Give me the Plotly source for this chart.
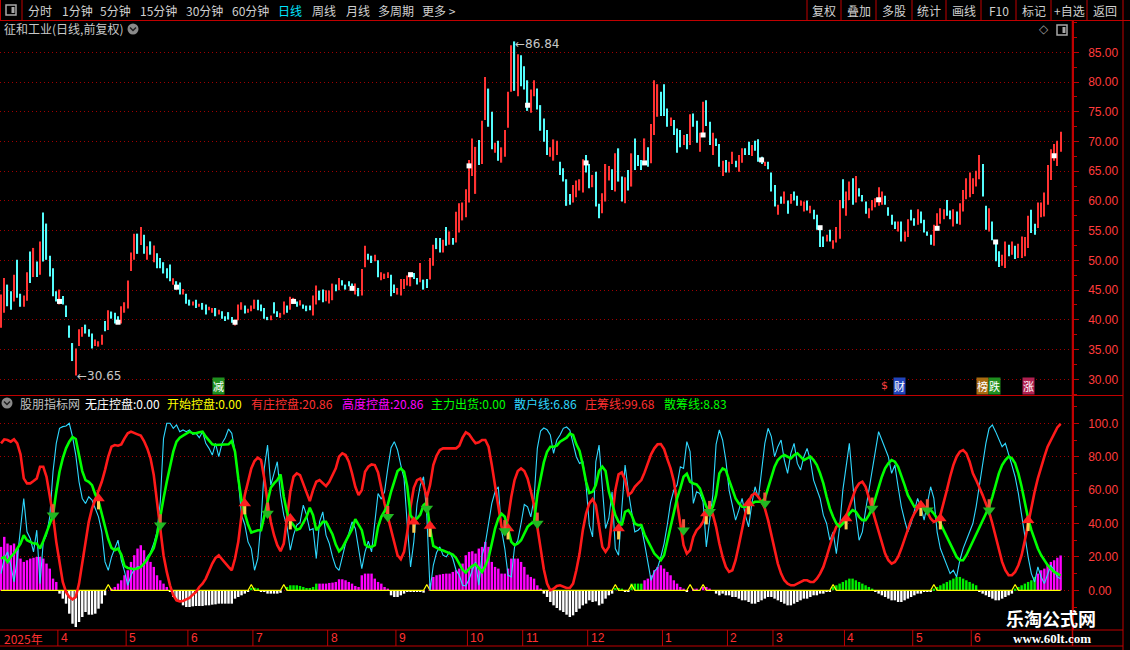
import plotly.graph_objects as go

W, H = 1130, 650
def px(x): return x / W
def py(y): return 1 - y / H

# ---------------- price data (daily bars) ----------------
highs = [44.25,47.05,45.93,44.8,47.6,50.1,44.4,44.1,48.0,51.5,
 52.1,49.8,53.2,58.06,56.2,50.8,48.7,44.8,45.1,44.0,
 42.4,39.05,36.1,35.2,38.4,38.8,39.2,38.4,37.7,36.7,
 36.4,37.5,39.8,41.6,41.4,41.2,40.6,42.3,42.96,46.6,
 51.35,54.5,54.5,55.6,54.3,52.36,53.2,52.5,51.2,50.4,
 49.7,48.7,49.3,47.0,46.5,46.3,45.2,44.4,43.4,43.1,
 43.4,42.7,42.85,42.57,42.2,42.0,42.0,41.7,41.45,40.6,
 41.3,40.5,40.06,42.57,42.96,42.4,41.85,42.4,43.4,43.4,
 42.57,42.0,40.5,40.73,42.96,41.45,41.18,43.1,42.4,43.9,
 43.7,43.1,43.3,42.57,42.4,42.4,44.08,45.76,44.92,45.09,
 44.98,44.92,46.1,45.93,47.05,46.66,45.93,46.5,46.1,46.1,
 45.37,48.56,52.47,51.13,50.79,50.96,50.01,48.0,47.77,48.0,
 47.6,45.93,45.37,46.88,46.88,47.44,47.88,47.88,47.05,49.56,
 46.77,46.88,50.4,52.64,53.76,53.76,53.47,55.6,54.87,53.76,
 58.2,59.6,59.74,61.97,66.9,70.52,69.1,70.24,73.49,80.86,
 78.9,74.99,69.8,70.13,69.02,71.92,78.35,86.17,86.84,84.66,
 84.5,82.65,80.3,78.74,80.3,78.9,76.12,73.88,71.92,69.02,
 70.35,70.13,66.61,65.49,63.65,61.19,62.7,63.43,63.65,67.0,
 67.73,66.22,64.38,64.93,59.51,61.3,66.22,65.89,65.33,68.01,
 68.85,64.1,63.99,65.21,68.01,70.52,67.73,66.89,70.52,69.02,
 72.93,80.3,79.64,78.35,79.64,75.55,74.05,73.6,72.2,71.92,
 71.08,71.25,74.6,74.72,73.49,71.47,76.67,76.95,73.32,71.47,
 70.52,69.57,66.78,66.89,66.61,68.29,66.78,67.73,68.85,68.85,
 69.96,69.41,70.13,70.36,67.45,66.61,66.61,64.77,62.7,59.35,
 60.74,61.58,60.07,61.19,61.58,60.86,60.07,59.91,60.07,59.18,
 58.51,57.67,55.71,54.03,54.31,55.15,53.37,55.6,60.18,63.65,
 61.58,63.26,63.82,64.21,62.14,61.02,59.91,58.79,60.18,60.46,
 62.31,61.58,60.86,58.96,57.67,56.55,56.55,56.55,54.87,56.94,
 58.51,57.11,58.62,58.23,56.83,54.87,54.31,55.99,57.95,58.79,
 58.62,60.18,58.4,58.62,58.23,59.63,61.86,63.82,64.77,63.82,
 65.1,67.73,66.22,59.18,58.79,56.55,52.81,51.52,50.96,53.2,
 52.64,53.2,52.47,52.81,54.03,53.92,57.5,58.51,56.16,59.74,
 59.74,61.41,66.05,68.68,69.58,70.13,71.64]
lows = [38.66,41.18,42.29,41.7,43.1,43.7,42.2,42.2,43.2,46.2,
 47.2,47.2,47.6,49.8,50.1,47.3,43.97,43.1,42.6,42.6,
 40.5,36.98,33.07,30.65,35.6,37.15,37.7,37.15,35.2,35.6,
 35.5,35.8,38.1,38.3,40.2,39.4,39.4,39.4,41.2,41.9,
 48.2,50.1,51.1,52.6,51.1,50.1,50.96,49.7,48.7,48.7,
 47.8,47.0,46.5,45.9,45.1,44.25,44.25,42.7,42.4,42.4,
 42.0,42.2,41.7,40.9,41.6,41.2,40.6,40.9,40.17,39.8,
 40.06,39.5,39.05,39.95,41.7,41.06,41.18,41.45,41.85,41.6,
 41.45,40.17,39.95,39.95,41.06,40.5,40.34,40.9,41.18,41.7,
 42.7,42.2,42.4,41.85,41.45,41.6,40.73,42.57,43.3,42.96,
 43.13,42.74,43.3,44.8,44.98,45.76,45.09,45.65,45.2,44.25,
 43.97,44.08,48.84,50.12,49.56,49.84,47.16,46.66,46.88,47.05,
 43.97,44.53,44.25,44.08,45.2,45.76,45.65,46.88,45.93,46.32,
 45.09,45.37,46.77,49.11,51.9,51.35,51.35,52.47,52.64,52.64,
 53.03,54.7,56.72,57.28,59.74,64.21,61.19,66.05,66.22,73.6,
 72.48,68.68,68.12,66.78,66.44,67.45,72.31,78.35,78.52,77.6,
 79.3,78.74,75.16,74.83,77.6,75.39,71.81,69.96,67.73,67.45,
 66.78,67.73,64.38,63.26,59.18,59.35,59.74,60.63,61.75,61.41,
 64.77,62.14,62.31,59.07,57.11,57.95,59.91,63.43,61.86,61.58,
 63.26,59.91,59.63,61.75,62.42,65.21,65.89,65.21,66.78,65.77,
 66.33,71.08,74.16,74.27,74.27,72.48,72.59,71.08,68.12,69.02,
 69.41,68.68,69.41,72.48,69.8,68.29,71.08,72.59,69.41,67.73,
 69.24,65.77,64.21,64.77,64.77,66.22,65.66,64.93,66.44,67.73,
 67.73,67.56,68.46,66.61,66.22,65.89,65.33,61.58,59.07,57.67,
 59.51,59.51,57.84,59.51,60.07,59.18,59.18,58.23,58.4,57.95,
 56.94,55.15,52.25,52.25,53.2,53.2,51.97,53.03,53.64,58.79,
 57.5,60.18,59.35,59.74,60.74,59.91,57.84,57.11,58.4,58.96,
 59.18,59.35,59.35,57.5,55.99,55.27,54.87,53.2,53.2,53.92,
 56.72,55.82,55.99,56.27,54.71,54.15,52.64,52.47,55.15,56.16,
 56.94,57.5,56.94,55.71,56.16,55.99,58.23,60.3,60.63,61.19,
 62.42,63.65,60.74,55.15,54.87,53.37,49.84,48.89,49.12,48.73,
 50.68,50.96,50.24,50.4,50.4,50.68,52.08,54.59,54.31,55.43,
 57.28,57.39,59.35,63.54,66.78,65.89,68.29]
# r = up (red), c = down (cyan)
updown = ("rrccrccrrc" "rcrcccccrc" "cccrrrcccr" "rrcrcccrrr" "rrcrcrcrcc"
          "cccrccrccr" "crccrrcrcc" "ccrrrcrrrc" "cccrccrrcr" "rcrcccrrcc"
          "rrrcrccccr" "crrccrcrrr" "ccrrrrrccr" "ccrrccrcrc" "rrrrrrrcrr"
          "ccrcrrrrcr" "cccrrccccr" "rrccccrrrr" "ccrccrrrcr" "ccrcrcccrc"
          "rrrcccrccc" "rcrccrrccr" "ccrcrrcrrc" "crcccrcccr" "crcrccrrcr"
          "ccccrcrrrc" "rrcrcccrrr" "rrccccrcrr" "ccrccccrrr" "rccrcrrrrr"
          "rrccrcccrr" "crcrrrrccr" "rrrrrrr")
N = len(highs)
idx = list(range(N))

# periodic white square marks (bar index, price)
sq_idx = [18, 36, 54, 72, 90, 108, 126, 144, 162, 180, 198, 216, 234, 252, 270, 288, 306, 324]
sq_val = [43.1, 39.6, 45.5, 39.6, 43.1, 45.3, 47.6, 65.9, 76.1, 66.4, 66.4, 71.1, 66.9, 55.5, 60.2, 55.4, 53.1, 67.6]

# month starts
month_idx = [18, 39, 58, 78, 101, 122, 144, 161, 181, 204, 224, 238, 260, 281, 299]
month_lbl = ['4', '5', '6', '7', '8', '9', '10', '11', '12', '1', '2', '3', '4', '5', '6']

price_ticks = [30, 35, 40, 45, 50, 55, 60, 65, 70, 75, 80, 85]
ind_ticks = [0, 20, 40, 60, 80, 100]
ind_ticktext = ['0.00', '20.00', '40.00', '60.00', '80.00', '100.0']

# ---------------- indicator data ----------------
zhuang_line = [88,90.4,90,89,90.4,88,81.4,67,64,64,
 65.4,67,74,74,68,57,45,29,17,5,
 -1,-4,-5.4,-4,4,17,31,41,49,54,
 59,65,72,80,86,87,86.6,87.4,91,94,
 95,94.4,93.4,92.6,89.4,85,79,69,53,35,
 21,11,3,-3,-6,-6.6,-6.4,-5.4,-4.6,-2.6,
 -1,2,4,7,12,16,19.4,21,18.6,16,
 14,12,19,29,45,57,65,73,77.4,79.4,
 78,67,53,41,33,27,23.4,28,43,59,
 68,70,69,64,58,53.4,60,65,66,64,
 62.4,65,69,73,80,82,81,77,70,62,
 57,60,71,74,75.4,75,70.6,60.6,52,44,
 36,28,21,18.6,23,35,50,61.4,66,67,
 63,55.4,63,75,80.6,84,85,85,85,84.8,
 85,86.6,91.4,94.6,93.4,90.6,88,88.6,90,90,
 86,75,62,48,38,35.4,43,56,66,71.4,
 73,71.4,67,59.4,51,38,24,12.6,4,0,
 1,2.6,3,2,1.4,1.4,4,12,22,36,
 46,52,54.6,51,37,26,23,26,43,60,
 69.4,70.6,66,57,58.6,62,64,66,70.6,76,
 81.4,85,87.4,87.6,84.6,78.6,73,65.4,52,38,
 27,22,24,32,36,38,41,47,51,45.4,
 38,28,20,14,11,12,18,27,37,46,
 53,57,58,56,53,49,42,33,24,16,
 10,6,4,3,3,4,5,6,6,5,
 5,7,10,14,20,27,33,38,40,41,
 44,50,56,61,64,65,62,56,49,42,
 35,28,22,18,16,17,20,25,31,37,
 42,46,49,51,50,47,43,41,42,45,
 52,60,68,75,80,83,84,82,77,70,
 66,62,57,52,47,40,32,24,17,12,
 9,9,11,15,21,30,40,50,59,67,
 74,80,86,90,94,97.5,99.68]
sanchou_line = [19,20,17,20,22,25,28,33,30,29,
 28,28,25,29.4,35,40.6,45,59,71,79,
 85,89,91.8,90.6,81.4,71.4,66,65,63,57.4,
 53.4,45.4,37.4,30.6,25.4,24,25,21.4,14.6,13.4,
 13,12.6,13,14,16,18.6,22,25.4,33,45,
 55,65,75,83,89,91.4,92.6,94,95,94,
 94,94.6,95,92,89.4,87.4,87,87,87.4,87.4,
 87.4,89.4,83,67,54,46,39.4,34.6,35.4,36,
 36,45,53.4,61.4,64,66,69.4,56,46.6,41.4,
 39,36.2,37,40.6,44,49.4,45,36,38.6,41,
 41,37,33.4,27.4,23.4,25.4,29.4,32.6,36.6,42.6,
 39,36,27.4,26,26,27,38,44,47.4,51.4,
 59,66,71.4,73,71,62,45,42,43,45.4,
 51,52.6,37,26.6,25.4,24.4,23.8,23,22.4,21.4,
 19.4,15.4,12.4,10.6,13,14.6,15.6,13.4,11,14.6,
 19.4,28,37,43,45.8,44,36,29,27,28,
 30,34,38,39.8,41,57,68,76.6,83,86,
 86,86.6,89,90.4,91.4,93.8,93,87.4,83.4,75,
 65,58.2,59,63,71.4,74,71.4,59.4,52,45,
 41,39,47,48,45,40,39,39,33.4,29.4,
 25.4,22,20,18,21,29.4,38.6,47,55,61,
 68,69.8,65,64,63.4,61,55,50,47.4,50,
 57,70,73,72,66,60,55,52,50,50,
 51,52,53,53,53,55,61,68,74,78,
 80,81,80,79,81,82,80,78,79,80,
 78,75,70,64,56,49,44,40,38,40,
 42,46,48,47,44,42,42,45,49,55,
 62,68,73,76,78,77,74,69,63,57,
 53,50,50,50,49,48,48,46,43,40,
 36,32,27,23,20,18,18,21,25,30,
 34,38,42,46,50,56,63,70,75,78,
 80,79,76,70,62,52,43,36,30,25,
 21,18,15,13,11,10,8.83]
sanhu_line = [10,19,23,15,5,19,37,55,35,31,
 23,36,4,29,33,44,71,88,97,98,
 98.4,100,92,81,65,55,52,56,54,49,
 44,35,17,12,20,25,30,18,11.4,3,
 9,12.6,14,14,16,20,22.6,28,35,53,
 91,100,100,97,99,95,96,95,96,93.4,
 94,91.4,95,88,85,81,88,80,88,91.4,
 96.6,94,83,66,45,39.4,29,25,12,19,
 41,73,87,63,70,77,57,45,38,24,
 33,39,40.6,51,45,36,37,19,41,47,
 33,28,20,14,12,21,28,34,41,37,
 25,13,23,29.4,23,41,58,54.6,59,73,
 85.4,89,84,75,67,39,14,29,52,63,
 68,45,0,15,22.6,26,21,20,23,19,
 12,9,3,2.6,6.6,12,17,3,21,28,
 41,52,59,62,36,25,9,8,26,30,
 40,51.4,50,44,55,85,95.4,97.2,96.2,93,
 82,90,93,97,97.8,96,88,80,76,77,
 63,39,32,77,87,64,37,43,59,25,
 21,49,75,59.4,47,35,36,38,28,17,
 6,11.4,13.4,20,28,39.4,52.6,60,63,74,
 73,89,83,52,59,58,53,26,40,57,
 87.4,96,90,78,60,50,42,48,55,45,
 38,52,62,55,70,88,97,92,80,86,
 90,78,70,82,88,76,72,80,85,78,
 66,60,55,45,40,30,35,22,38,60,
 75,88,65,45,30,35,48,60,72,85,
 95,90,85,80,70,75,62,50,42,35,
 40,48,55,50,42,52,62,55,35,25,
 20,15,10,12,8,18,25,30,35,40,
 50,62,75,88,97,99,95,90,86,88,
 82,75,68,58,45,32,20,10,5,14,
 8,4,10,15,12,8,6.86]

# histogram runs: (start index, values)
gaodu_runs = [(0, [26,32,28,27,28,24,19,17,18,19,19.5,20,20,19,16,13,7,5]),
 (34, [1,2,4,6,9,12,17,21,25,27,24,19,17,14,9,6,4,2]),
 (98, [4,4,4,4.4,4.6,5,6.6,6.6,6,5,4,2.6,2,9,10,10,10,7,5,4,2,1]),
 (132, [4,8,9,9.4,9.8,10,10,11,12,13,16,21,23,23.4,22,25,26,29,26,17,14,13,10,10,13,19,19,19,17,14,9.4,8,7,3,1]),
 (198, [6,7,9,12,14,15,13,11,9,6,4,2,1]),
 (213, [1,1]), (216, [2,2,1]),
 (319, [10,12,13,15,17,18,19.5,20.86])]
wuzhuang_runs = [(18, [-2,-5,-8,-14,-20,-22,-19,-16,-13,-14.6,-14.6,-14,-11,-8,-3]),
 (52, [-1,-4,-6,-7,-9,-10,-10,-9.6,-9.4,-9.4,-9.4,-9,-9,-8.6,-8.4,-8,-8,-8,-8,-8,-5,-4,-3,-2,-0.6]),
 (80, [-1,-1,-2,-2,-2,-2,-1.5]),
 (120, [-3,-4,-4,-3,-2,-1,-1,-1,-0.6,-1,-1.4]),
 (167, [-2,-4,-7,-9,-10.6,-12,-13,-14.6,-16,-15,-13,-11,-9,-8,-6,-7,-6.6,-9,-8,-5,-3,-2]),
 (192, [-1,-1]), (211, [-1]),
 (220, [-2,-3,-2,-3,-3,-4,-4,-5,-6,-6,-7,-8,-8,-7,-6,-5,-4,-4,-5,-6,-7,-8,-9,-9,-8,-7,-6,-5,-5,-4,-3,-3,-2,-2,-1,-1]),
 (269, [-1,-2,-3,-4,-5,-6,-6,-7,-7,-6,-5,-4,-3,-2,-2,-1,-1,-1]),
 (301, [-1,-2,-3,-4,-5,-6,-6,-5,-4,-3,-2])]
chuhuo_runs = [(77, [1.5,1.5,1.2]), (88, [2,3,3,3,2.6,2,1.4,1.4,2,4]),
 (189, [1.4,1.4,1]), (194, [4,4,4,4]),
 (256, [2,3,4,5,6,7,7,6,5,4,3,2,1]),
 (287, [1,2,3,4,5,6,7,8,8,7,6,5,4,3]),
 (312, [1,2,3,4,5,6,8])]
kaishi_spikes = [33, 77, 87, 131, 189, 194, 212, 216, 256, 287, 312]
kaishi_height = 3.5

red_up_idx = [30, 75, 89, 127, 132, 156, 190, 217, 230, 260, 283, 289, 316]
red_up_val = [55, 52, 43, 41, 38.5, 37, 37, 46, 52, 43, 51, 43, 42]
grn_dn_idx = [16, 49, 82, 119, 131, 155, 165, 210, 218, 235, 268, 285, 304]
grn_dn_val = [45, 39, 46, 44, 49, 35.5, 40, 36, 47, 52, 49, 48, 48]

def expand(runs):
    out = [0.0] * N
    for s, vals in runs:
        for k, v in enumerate(vals):
            out[s + k] = v
    return out

gaodu = expand(gaodu_runs)
wuzhuang = expand(wuzhuang_runs)
chuhuo = expand(chuhuo_runs)
kaishi = [0.0] * N
for s in kaishi_spikes:
    kaishi[s] = kaishi_height

# ---------------- figure ----------------
RED = '#ff3232'
CYAN = '#54fcfc'
FRAME = '#c00000'
CJK = 'Noto Sans CJK SC'

fig = go.Figure()

# candles (thin bars from low to high)
fig.add_trace(go.Bar(x=idx, y=[h - l for h, l in zip(highs, lows)], base=lows, width=0.36,
                     marker=dict(color=[RED if f == 'r' else CYAN for f in updown], line=dict(width=0)),
                     hoverinfo='skip', xaxis='x', yaxis='y'))
fig.add_trace(go.Scatter(x=sq_idx, y=sq_val, mode='markers',
                         marker=dict(symbol='square', size=5, color='white', line=dict(width=0)),
                         hoverinfo='skip', xaxis='x', yaxis='y'))

# indicator histograms
fig.add_trace(go.Bar(x=idx, y=gaodu, width=0.75, marker=dict(color='#ff00ff', line=dict(width=0)),
                     hoverinfo='skip', xaxis='x2', yaxis='y2'))
fig.add_trace(go.Bar(x=idx, y=wuzhuang, width=0.75, marker=dict(color='#ffffff', line=dict(width=0)),
                     hoverinfo='skip', xaxis='x2', yaxis='y2'))
fig.add_trace(go.Bar(x=idx, y=chuhuo, width=0.75, marker=dict(color='#00ee00', line=dict(width=0)),
                     hoverinfo='skip', xaxis='x2', yaxis='y2'))
fig.add_trace(go.Scatter(x=idx, y=kaishi, mode='lines', line=dict(color='#ffff00', width=1.2),
                         hoverinfo='skip', xaxis='x2', yaxis='y2'))
fig.add_trace(go.Scatter(x=idx, y=sanhu_line, mode='lines', line=dict(color='#2fd8ff', width=1.1),
                         hoverinfo='skip', xaxis='x2', yaxis='y2'))
fig.add_trace(go.Scatter(x=idx, y=zhuang_line, mode='lines', line=dict(color='#ff1a1a', width=2.6),
                         hoverinfo='skip', xaxis='x2', yaxis='y2'))
fig.add_trace(go.Scatter(x=idx, y=sanchou_line, mode='lines', line=dict(color='#00ff00', width=2.6),
                         hoverinfo='skip', xaxis='x2', yaxis='y2'))
# arrows: head + stem
fig.add_trace(go.Scatter(x=red_up_idx, y=[v - 3.6 for v in red_up_val], mode='markers',
                         marker=dict(symbol='line-ns-open', size=7, line=dict(color='#ff2020', width=3)),
                         hoverinfo='skip', xaxis='x2', yaxis='y2'))
fig.add_trace(go.Scatter(x=red_up_idx, y=red_up_val, mode='markers',
                         marker=dict(symbol='triangle-up', size=11, color='#ff2020', line=dict(width=0)),
                         hoverinfo='skip', xaxis='x2', yaxis='y2'))
fig.add_trace(go.Scatter(x=grn_dn_idx, y=[v + 3.6 for v in grn_dn_val], mode='markers',
                         marker=dict(symbol='line-ns-open', size=7, line=dict(color='#22b822', width=3)),
                         hoverinfo='skip', xaxis='x2', yaxis='y2'))
fig.add_trace(go.Scatter(x=grn_dn_idx, y=grn_dn_val, mode='markers',
                         marker=dict(symbol='triangle-down', size=11, color='#22b822', line=dict(width=0)),
                         hoverinfo='skip', xaxis='x2', yaxis='y2'))

XDOM = [0, 1072 / W]
XR = [-0.31, 329.5]
axis_font = dict(color='#ff3c3c', size=12, family='Liberation Sans')
common_y = dict(side='right', showgrid=True, gridcolor='#a00000', griddash='1px,3px', gridwidth=1,
                showline=True, linecolor=FRAME, linewidth=1.5, ticks='outside', ticklen=5,
                tickcolor=FRAME, tickfont=axis_font, zeroline=False, fixedrange=True,
                ticklabelstandoff=7)

fig.update_layout(
    width=W, height=H, margin=dict(l=0, r=0, t=0, b=0),
    paper_bgcolor='black', plot_bgcolor='black', showlegend=False, barmode='overlay',
    xaxis=dict(domain=XDOM, range=XR, showgrid=False, showticklabels=False, zeroline=False,
               showline=False, ticks='', anchor='y', fixedrange=True),
    xaxis2=dict(domain=XDOM, range=XR, showgrid=False, showticklabels=False, zeroline=False,
                showline=False, ticks='', anchor='y2', fixedrange=True),
    yaxis=dict(domain=[py(395), py(21)], range=[27.36, 90.27], anchor='x',
               tickvals=price_ticks, ticktext=['%.2f' % v for v in price_ticks],
               minor=dict(dtick=2.5, tick0=0, ticklen=3, tickcolor=FRAME, ticks='outside', showgrid=False),
               **common_y),
    yaxis2=dict(domain=[py(630), py(396)], range=[-23.77, 116.35], anchor='x2',
                tickvals=ind_ticks, ticktext=ind_ticktext,
                minor=dict(dtick=10, tick0=0, ticklen=3, tickcolor=FRAME, ticks='outside', showgrid=False),
                **common_y),
)

shapes = []
def hline(y, x0, x1, color=FRAME, w=1):
    shapes.append(dict(type='line', xref='paper', yref='paper', x0=px(x0), x1=px(x1), y0=py(y), y1=py(y),
                       line=dict(color=color, width=w)))
def vline(x, y0, y1, color=FRAME, w=1):
    shapes.append(dict(type='line', xref='paper', yref='paper', x0=px(x), x1=px(x), y0=py(y0), y1=py(y1),
                       line=dict(color=color, width=w)))

hline(20.5, 0, W)
for xs in [0.5, 22, 807, 841, 876, 912, 946, 981, 1016, 1051, 1087]:
    vline(xs, 0, 20.5)
vline(1123, 0, H)
vline(1072.5, 21, 646, w=1.5)
hline(395.5, 0, 1123)
hline(630, 0, 1123)
hline(646, 0, 1123)
# month dividers on the date strip
for m in month_idx:
    shapes.append(dict(type='line', xref='x2', yref='paper', x0=m - 0.5, x1=m - 0.5, y0=py(630), y1=py(646),
                       line=dict(color=FRAME, width=1)))

def icon_box(x0, y0):
    shapes.append(dict(type='rect', xref='paper', yref='paper', x0=px(x0), x1=px(x0 + 10), y0=py(y0), y1=py(y0 + 10),
                       line=dict(color='#a8a8a8', width=1.5), fillcolor='rgba(0,0,0,0)'))
    shapes.append(dict(type='rect', xref='paper', yref='paper', x0=px(x0 + 5.5), x1=px(x0 + 8.5), y0=py(y0 + 2), y1=py(y0 + 8),
                       line=dict(width=0), fillcolor='#a8a8a8'))
icon_box(6, 5)
icon_box(1057, 25)

def chevron_circle(cx, cy):
    r = 5.5
    shapes.append(dict(type='circle', xref='paper', yref='paper', x0=px(cx - r), x1=px(cx + r), y0=py(cy - r), y1=py(cy + r),
                       line=dict(width=0), fillcolor='#8a8a8a'))
    path = 'M %f %f L %f %f L %f %f' % (px(cx - 3), py(cy - 1.5), px(cx), py(cy + 1.5), px(cx + 3), py(cy - 1.5))
    shapes.append(dict(type='path', xref='paper', yref='paper', path=path, line=dict(color='#202020', width=1.5)))
chevron_circle(133, 29)
chevron_circle(7, 403)

ann = []
def text(x, y, s, color='#d0d0d0', size=12, anchor='left', family=CJK, **kw):
    ann.append(dict(x=px(x), y=py(y), xref='paper', yref='paper', text=s, showarrow=False,
                    xanchor=anchor, yanchor='middle', font=dict(color=color, size=size, family=family), **kw))

# toolbar
for cx, s in [(39.5, '分时'), (77, '1分钟'), (115.5, '5分钟'), (158.5, '15分钟'), (204.5, '30分钟'),
              (250, '60分钟'), (324, '周线'), (358, '月线'), (396, '多周期'), (439, '更多 >')]:
    text(cx, 10.5, s, anchor='center')
text(290, 10.5, '日线', color='#00e5ff', anchor='center')
for cx, s in [(824, '复权'), (858.5, '叠加'), (894, '多股'), (929, '统计'), (963.5, '画线'),
              (998.5, 'F10'), (1033.5, '标记'), (1069, '+自选'), (1105, '返回')]:
    text(cx, 10.5, s, anchor='center')

# title row
text(2, 29, '征和工业(日线,前复权)', color='#c8c8c8')
text(1044, 29.5, '◇', color='#9a9a9a', size=12, anchor='center', family='DejaVu Sans')

# price extremes
hi_i = max(idx, key=lambda i: highs[i])
lo_i = min(idx, key=lambda i: lows[i])
ann.append(dict(x=hi_i - 0.4, y=highs[hi_i], xref='x', yref='y', text='←%.2f' % highs[hi_i], showarrow=False,
                xanchor='left', yanchor='middle', yshift=-3, font=dict(color='#c8c8c8', size=12, family='DejaVu Sans')))
ann.append(dict(x=lo_i - 0.2, y=lows[lo_i], xref='x', yref='y', text='←%.2f' % lows[lo_i], showarrow=False,
                xanchor='left', yanchor='middle', yshift=-1, font=dict(color='#c8c8c8', size=12, family='DejaVu Sans')))

# event tags at bottom of price panel
def tag(x, s, bg, fg='white'):
    ann.append(dict(x=px(x), y=py(386), xref='paper', yref='paper', text=s, showarrow=False, xanchor='left',
                    yanchor='middle', bgcolor=bg, borderpad=0, font=dict(color=fg, size=11, family=CJK)))
tag(212, '减', '#1f8f1f')
text(879, 386, '$', color='#ff4040', size=11, family='DejaVu Sans')
tag(893, '财', '#2244bb')
tag(976, '榜', '#a86a10')
tag(988, '跌', '#1f8f1f')
tag(1022, '涨', '#b02050')

# indicator legend row
def f2(v): return '%.2f' % v
for x, s, c in [(18, '股朋指标网', '#c0c0c0'),
                (83, '无庄控盘:' + f2(wuzhuang[-1]), '#ffffff'),
                (165, '开始控盘:' + f2(kaishi[-1]), '#ffff00'),
                (249, '有庄控盘:' + f2(gaodu[-1]), '#ff3030'),
                (340, '高度控盘:' + f2(gaodu[-1]), '#ff00ff'),
                (429, '主力出货:' + f2(chuhuo[-1]), '#00ff00'),
                (512, '散户线:' + f2(sanhu_line[-1]), '#2fd8ff'),
                (583, '庄筹线:' + f2(zhuang_line[-1]), '#ff3030'),
                (662, '散筹线:' + f2(sanchou_line[-1]), '#00ff00')]:
    text(x, 403.5, s, color=c)

# date strip
text(2, 638, '2025年', color='#ff3030', size=12)
for m, s in zip(month_idx, month_lbl):
    ann.append(dict(x=m - 0.2, y=py(638), xref='x2', yref='paper', text=s, showarrow=False, xanchor='left',
                    yanchor='middle', font=dict(color='#ff3030', size=12, family='Liberation Sans')))

# watermark
text(1051, 618, '<b>乐淘公式网</b>', color='#ffffff', size=18, anchor='center')
text(1052, 638, '<b>www.60lt.com</b>', color='#ffffff', size=13, anchor='center', family='Liberation Serif')

fig.update_layout(shapes=shapes, annotations=ann)
fig.write_html('out.html', config={'displayModeBar': False},
               post_script="document.body.style.margin='0';document.body.style.padding='0';"
                           "document.body.style.background='black';document.body.style.overflow='hidden';")
